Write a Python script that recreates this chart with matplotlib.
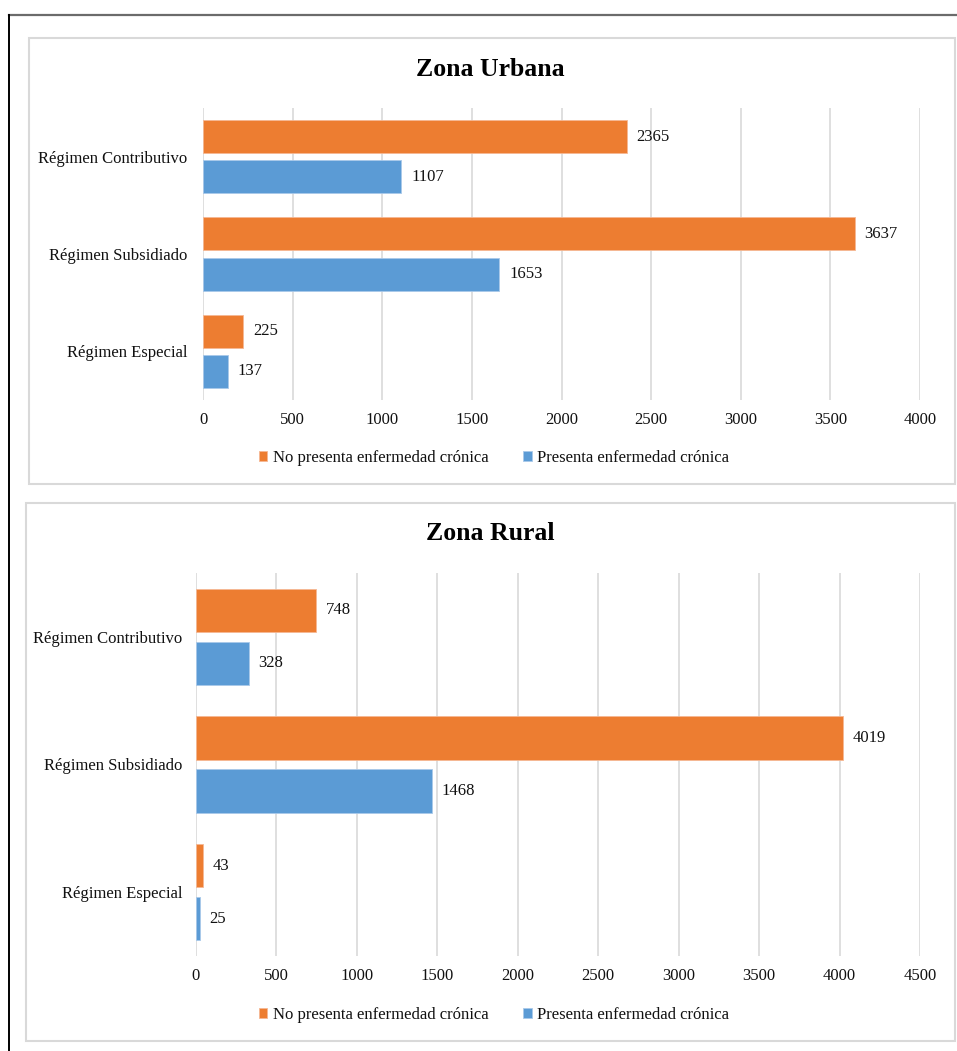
import matplotlib
matplotlib.use("Agg")
import matplotlib.pyplot as plt
import numpy as np
from matplotlib.patches import Rectangle
from matplotlib.lines import Line2D

plt.rcParams['font.family'] = ['Liberation Serif', 'DejaVu Serif']

categories = ["Régimen Contributivo", "Régimen Subsidiado", "Régimen Especial"]
series_names = ["No presenta enfermedad crónica", "Presenta enfermedad crónica"]

urbana_no = [2365, 3637, 225]
urbana_si = [1107, 1653, 137]
rural_no = [748, 4019, 43]
rural_si = [328, 1468, 25]

urbana_ticks = [0, 500, 1000, 1500, 2000, 2500, 3000, 3500, 4000]
rural_ticks = [0, 500, 1000, 1500, 2000, 2500, 3000, 3500, 4000, 4500]

ORANGE = "#ED7D31"
BLUE = "#5B9BD5"
GRID = "#D9D9D9"
TEXT = "#111111"

W, H = 957, 1051
fig = plt.figure(figsize=(W / 100, H / 100), dpi=100)


def fx(px):
    return px / W


def fy(py):
    return 1 - py / H


# outer frame (top and left edges visible)
fig.add_artist(Line2D([fx(9), 1.0], [fy(15), fy(15)], color="#6b6b6b", lw=1.6,
                      transform=fig.transFigure))
fig.add_artist(Line2D([fx(9), fx(9)], [fy(15), 0.0], color="black", lw=1.4,
                      transform=fig.transFigure))

# chart panels
for (x0, y0, x1, y1) in [(29, 38, 955, 484), (26, 503, 955, 1041)]:
    fig.add_artist(Rectangle((fx(x0), fy(y1)), fx(x1) - fx(x0), fy(y0) - fy(y1),
                             transform=fig.transFigure, fill=False,
                             edgecolor=GRID, lw=1.5))


def draw_chart(rect, no_vals, si_vals, ticks, title, title_y, legend_y, label_pad):
    ax = fig.add_axes(rect)
    y = np.arange(len(categories))
    h = 0.34
    off = 0.207
    b1 = ax.barh(y - off, no_vals, height=h, color=ORANGE, edgecolor="#f5b894",
                 lw=0.6, label=series_names[0], zorder=3)
    b2 = ax.barh(y + off, si_vals, height=h, color=BLUE, edgecolor="#a9c9ea",
                 lw=0.6, label=series_names[1], zorder=3)
    for bars, vals in ((b1, no_vals), (b2, si_vals)):
        ax.bar_label(bars, labels=[str(v) for v in vals], padding=7,
                     fontsize=12, color=TEXT)
    ax.set_xlim(ticks[0], ticks[-1])
    ax.set_ylim(len(categories) - 0.5, -0.5)
    ax.set_xticks(ticks)
    ax.set_xticklabels([str(t) for t in ticks], fontsize=12, color=TEXT)
    ax.set_yticks(y)
    ax.set_yticklabels(categories, fontsize=12, color=TEXT)
    ax.tick_params(axis="both", length=0)
    ax.tick_params(axis="x", pad=9)
    ax.tick_params(axis="y", pad=label_pad)
    ax.xaxis.grid(True, color=GRID, lw=1.2, zorder=0)
    ax.set_axisbelow(True)
    for s in ax.spines.values():
        s.set_visible(False)
    fig.text(fx(490.5), title_y, title, ha="center", va="center",
             fontsize=18.5, fontweight="bold", color="black")
    fig.legend(handles=[b1, b2], loc="center", bbox_to_anchor=(fx(494), legend_y),
               ncol=2, frameon=False, fontsize=12, handlelength=0.5,
               handleheight=0.5, handletextpad=0.35, columnspacing=2.1,
               labelcolor=TEXT)
    return ax


draw_chart([fx(203), fy(400), fx(920) - fx(203), fy(108) - fy(400)],
           urbana_no, urbana_si, urbana_ticks, "Zona Urbana", fy(70), fy(458), 11)
draw_chart([fx(196), fy(956), fx(920) - fx(196), fy(573) - fy(956)],
           rural_no, rural_si, rural_ticks, "Zona Rural", fy(534), fy(1015), 10)

fig.savefig("out.png", dpi=100, facecolor="white")
